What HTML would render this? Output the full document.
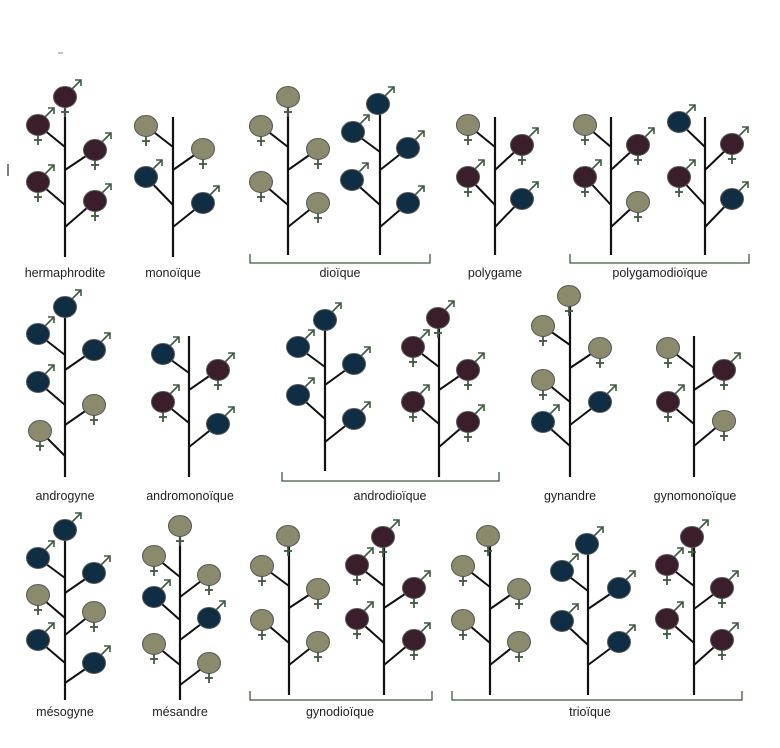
<!DOCTYPE html>
<html><head><meta charset="utf-8"><style>
html,body{margin:0;padding:0;background:#fff;width:780px;height:748px;overflow:hidden}
svg text{font-family:"Liberation Sans",sans-serif;font-size:12.5px;fill:#222;text-anchor:middle}
</style></head><body>
<svg id="s" width="780" height="748" viewBox="0 0 780 748" xmlns="http://www.w3.org/2000/svg">
<text x="65" y="277">hermaphrodite</text>
<text x="173" y="277">monoïque</text>
<text x="340" y="277">dioïque</text>
<text x="495" y="277">polygame</text>
<text x="660" y="277">polygamodioïque</text>
<text x="65" y="500">androgyne</text>
<text x="190" y="500">andromonoïque</text>
<text x="390" y="500">androdioïque</text>
<text x="570" y="500">gynandre</text>
<text x="695" y="500">gynomonoïque</text>
<text x="65" y="716">mésogyne</text>
<text x="180" y="716">mésandre</text>
<text x="340" y="716">gynodioïque</text>
<text x="590" y="716">trioïque</text>
<g id="g"></g>
</svg>
<script>
var C={H:'#3b1e2b',M:'#0f2e44',F:'#8b8a6c'};
var G='#3e5a40';
var out='';
function br(x1,x2,y){out+='<path d="M'+x1+' '+(y-9)+'V'+y+'H'+x2+'V'+(y-9)+'" fill="none" stroke="'+G+'" stroke-width="1.3"/>';}
// plant: x, top, bottom, top flower [t,fx,fy] or null, branches [[t,fx,fy,join],...]
function plant(x,top,bot,tf,bs){
  var s='';
  s+='<line x1="'+x+'" y1="'+top+'" x2="'+x+'" y2="'+bot+'" stroke="#111" stroke-width="2.2"/>';
  bs.forEach(function(b){s+='<line x1="'+b[1]+'" y1="'+b[2]+'" x2="'+x+'" y2="'+b[3]+'" stroke="#111" stroke-width="2"/>';});
  var fl=bs.slice();if(tf)fl.push(tf);
  fl.forEach(function(f){
    var t=f[0],fx=f[1],fy=f[2];
    s+='<ellipse cx="'+fx+'" cy="'+fy+'" rx="11.5" ry="10.5" fill="'+C[t]+'" stroke="#555" stroke-width="1"/>';
    if(t!='F'){s+='<line x1="'+(fx+7)+'" y1="'+(fy-8)+'" x2="'+(fx+16)+'" y2="'+(fy-17)+'" stroke="'+G+'" stroke-width="1.6"/>'+
      '<path d="M'+(fx+10)+' '+(fy-17)+'L'+(fx+16)+' '+(fy-17)+'L'+(fx+16)+' '+(fy-11)+'" fill="none" stroke="'+G+'" stroke-width="1.6"/>';}
    if(t!='M'){s+='<line x1="'+fx+'" y1="'+(fy+10)+'" x2="'+fx+'" y2="'+(fy+20)+'" stroke="'+G+'" stroke-width="1.8"/>'+
      '<line x1="'+(fx-4)+'" y1="'+(fy+15)+'" x2="'+(fx+4)+'" y2="'+(fy+15)+'" stroke="'+G+'" stroke-width="1.8"/>';}
  });
  out+=s;
}
// row1
plant(65,97,257,['H',65,97],[['H',38,125,147],['H',95,150,170],['H',38,182,205],['H',95,201,227]]);
plant(173,117,257,null,[['F',146,126,147],['F',203,149,170],['M',146,177,205],['M',203,203,227]]);
plant(288,97,255,['F',288,97],[['F',261,126,147],['F',318,149,170],['F',261,182,205],['F',318,203,227]]);
plant(380,104,255,['M',378,104],[['M',353,132,152],['M',408,148,170],['M',352,180,205],['M',408,203,227]]);
plant(495,117,255,null,[['F',468,125,147],['H',522,145,170],['H',468,177,205],['M',522,199,227]]);
plant(611,117,255,null,[['F',585,125,147],['H',638,145,170],['H',585,177,205],['F',638,202,227]]);
plant(705,117,255,null,[['M',679,122,147],['H',732,144,170],['H',679,177,205],['M',732,199,227]]);
br(250,430,263);br(570,749,263);
// row2
plant(65,307,477,['M',65,307],[['M',38,334,355],['M',94,350,370],['M',38,382,405],['F',94,405,425],['F',40,431,456]]);
plant(189,336,477,null,[['M',163,354,373],['H',218,370,390],['H',163,402,423],['M',218,424,447]]);
plant(325,320,471,['M',325,320],[['M',298,347,367],['M',354,364,385],['M',298,395,419],['M',354,419,442]]);
plant(439,318,477,['H',438,318],[['H',413,347,367],['H',468,370,390],['H',413,402,424],['H',468,422,447]]);
plant(570,296,477,['F',569,296],[['F',543,326,345],['F',600,348,368],['F',543,380,402],['M',600,402,425],['M',543,422,446]]);
plant(694,336,477,null,[['F',668,348,368],['H',724,370,390],['H',668,402,424],['F',724,421,446]]);
br(282,499,481);
// row3
plant(65,530,700,['M',65,530],[['M',38,558,578],['M',94,573,593],['F',38,595,618],['F',94,612,635],['M',38,640,663],['M',94,663,683]]);
plant(180,526,700,['F',180,526],[['F',154,556,577],['F',209,575,597],['M',154,597,620],['M',209,618,640],['F',154,644,665],['F',209,663,685]]);
plant(289,536,695,['F',288,536],[['F',262,566,586],['F',318,589,608],['F',262,620,643],['F',318,642,665]]);
plant(384,537,695,['H',383,537],[['H',357,565,586],['H',414,588,608],['H',357,619,643],['H',414,640,665]]);
plant(490,536,695,['F',488,536],[['F',463,566,587],['F',519,589,609],['F',463,620,643],['F',519,642,665]]);
plant(588,544,695,['M',587,544],[['M',562,571,591],['M',619,588,609],['M',562,621,645],['M',619,642,665]]);
plant(694,537,695,['H',692,537],[['H',667,565,586],['H',722,588,609],['H',667,619,643],['H',722,640,665]]);
br(250,432,700);br(452,742,700);
out+='<line x1="58" y1="53" x2="63" y2="53" stroke="#888" stroke-width="1"/><line x1="8" y1="164" x2="8" y2="176" stroke="#555" stroke-width="1.5"/>';
document.getElementById('g').innerHTML=out;
</script>
</body></html>
